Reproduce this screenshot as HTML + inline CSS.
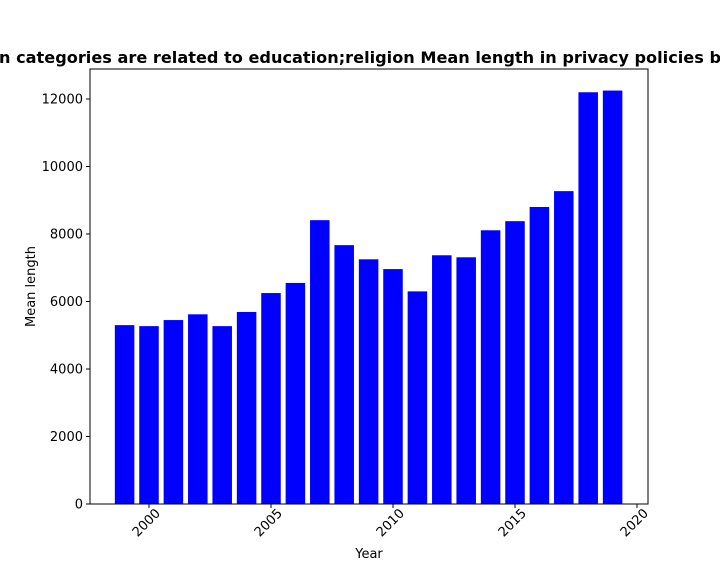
<!DOCTYPE html>
<html><head><meta charset="utf-8"><style>body{margin:0;background:#fff}svg{display:block;font-family:"DejaVu Sans","Liberation Sans",sans-serif}</style></head>
<body>
<svg width="720" height="576" viewBox="0 0 720 576" id="c">
<text x="-1" y="63" font-size="16" font-weight="bold" textLength="722" lengthAdjust="spacingAndGlyphs">n categories are related to education;religion Mean length in privacy policies b</text>
<g id="bars"></g>
<rect x="90" y="69" width="558" height="435" fill="none" stroke="#000" stroke-width="1"/>
<g id="axes"></g>
<text x="369" y="558" font-size="13" text-anchor="middle">Year</text>
<text transform="translate(35,286.5) rotate(-90)" font-size="13" text-anchor="middle">Mean length</text>
</svg>
<script>
const years=[1999,2000,2001,2002,2003,2004,2005,2006,2007,2008,2009,2010,2011,2012,2013,2014,2015,2016,2017,2018,2019];
const values=[5300,5270,5450,5620,5270,5690,6250,6550,8410,7670,7250,6960,6300,7370,7310,8110,8380,8800,9270,12200,12250];
const xTicks=[2000,2005,2010,2015,2020];
const yTicks=[0,2000,4000,6000,8000,10000,12000];
const ns="http://www.w3.org/2000/svg";
const x=v=>149+(v-2000)*24.4;
const y=v=>504-v*0.03375;
const bars=document.getElementById('bars'),axes=document.getElementById('axes');
years.forEach((yr,i)=>{const r=document.createElementNS(ns,'rect');


r.setAttribute('x',x(yr)-9.76);r.setAttribute('width',19.52);r.setAttribute('y',y(values[i]));r.setAttribute('height',504-y(values[i]));r.setAttribute('fill','#0000ff');bars.appendChild(r);});
xTicks.forEach(t=>{const l=document.createElementNS(ns,'line');


l.setAttribute('x1',x(t));l.setAttribute('x2',x(t));l.setAttribute('y1',504);l.setAttribute('y2',508);l.setAttribute('stroke','#000');axes.appendChild(l);
const tx=document.createElementNS(ns,'text');


tx.setAttribute('font-size','13');tx.setAttribute('text-anchor','end');
tx.setAttribute('transform','translate('+(x(t)+12)+',514) rotate(-45)');tx.textContent=t;axes.appendChild(tx);});
yTicks.forEach(t=>{const l=document.createElementNS(ns,'line');


l.setAttribute('x1',86);l.setAttribute('x2',90);l.setAttribute('y1',y(t));l.setAttribute('y2',y(t));l.setAttribute('stroke','#000');axes.appendChild(l);
const tx=document.createElementNS(ns,'text');


tx.setAttribute('font-size','13');tx.setAttribute('text-anchor','end');
tx.setAttribute('x',83);tx.setAttribute('y',y(t)+4.5);tx.textContent=t;axes.appendChild(tx);});
</script>
</body></html>
